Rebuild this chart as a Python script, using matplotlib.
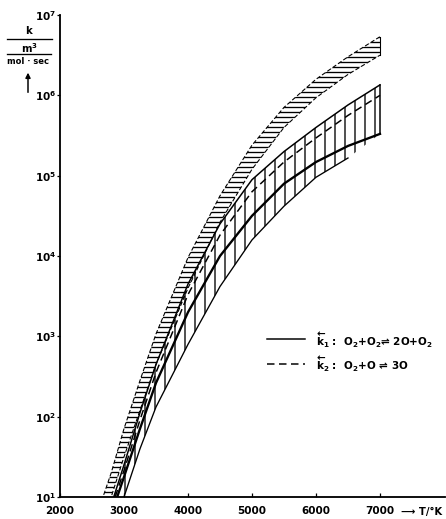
import numpy as np
import matplotlib
matplotlib.use("Agg")
import matplotlib.pyplot as plt
from matplotlib.lines import Line2D

# ---------------- data (log10 of k in m^3/(mol*sec)) ----------------
T = [2650, 2800, 3000, 3250, 3500, 4000, 4500, 5000, 5500, 6000, 6500, 7000]
# k2 band (horizontal hatching), upper and lower edge
k2_upper = [0.95, 1.30, 1.85, 2.45, 3.03, 3.98, 4.75, 5.38, 5.85, 6.20, 6.48, 6.73]
k2_lower = [0.60, 1.00, 1.50, 2.08, 2.65, 3.60, 4.42, 5.08, 5.60, 5.97, 6.26, 6.50]
# k1 band (vertical hatching): upper edge, inner dashed, inner bold
k1_upper = [0.45, 0.90, 1.40, 2.05, 2.65, 3.65, 4.40, 4.95, 5.30, 5.60, 5.88, 6.13]
k2_inner = [0.40, 0.85, 1.33, 1.96, 2.55, 3.52, 4.26, 4.80, 5.17, 5.47, 5.75, 6.00]
k1_mid   = [0.30, 0.78, 1.25, 1.85, 2.42, 3.30, 4.00, 4.50, 4.90, 5.17, 5.37, 5.52]
# lowest solid line
T_low    = [2800, 3000, 3250, 3500, 4000, 4500, 5000, 5500, 6000, 6500]
k1_lower = [0.45, 1.00, 1.60, 2.12, 2.90, 3.62, 4.20, 4.62, 4.98, 5.22]

x_ticks = [2000, 3000, 4000, 5000, 6000, 7000]
y_exps = [1, 2, 3, 4, 5, 6, 7]

legend_k1 = r"$\overleftarrow{\mathbf{k}}_{\mathbf{1}}$ :  O$_2$+O$_2$⇌ 2O+O$_2$"
legend_k2 = r"$\overleftarrow{\mathbf{k}}_{\mathbf{2}}$ :  O$_2$+O ⇌ 3O"

# ---------------- figure ----------------
DPI = 60
W, H = 446, 519
plt.rcParams['font.family'] = ['DejaVu Sans']
plt.rcParams['font.weight'] = 'bold'
plt.rcParams['mathtext.default'] = 'bf'
plt.rcParams['hatch.linewidth'] = 1.6
plt.rcParams['hatch.color'] = 'black'

fig = plt.figure(figsize=(W / DPI, H / DPI), dpi=DPI)
ax = fig.add_axes([60 / W, 22 / H, 385 / W, 482 / H])

def P(v):
    return 10.0 ** np.asarray(v, dtype=float)

Ta = np.asarray(T, dtype=float)
Tl = np.asarray(T_low, dtype=float)

# k2 band with horizontal hatching
ax.fill_between(Ta, P(k2_lower), P(k2_upper), facecolor='none', edgecolor='black',
                hatch='--', linewidth=0)
ax.plot(Ta, P(k2_upper), color='black', lw=1.3, ls=(0, (4, 2)))
ax.plot(Ta, P(k2_lower), color='black', lw=1.3, ls=(0, (4, 2)))

# k1 band with vertical hatching, down to the lowest line
low_env = np.interp(Ta, Tl, k1_lower, left=np.nan, right=np.nan)
low_env = np.where(np.isnan(low_env), k1_mid, low_env)
ax.fill_between(Ta, P(low_env), P(k1_upper), facecolor='none', edgecolor='black',
                hatch='|', linewidth=0)
ax.plot(Ta, P(k1_upper), color='black', lw=1.8)
ax.plot(Ta, P(k2_inner), color='black', lw=1.8, ls=(0, (5, 3)))
ax.plot(Ta, P(k1_mid), color='black', lw=2.8)
ax.plot(Tl, P(k1_lower), color='black', lw=1.6)
# closing edges at the right end
ax.plot([T[-1], T[-1]], P([k1_mid[-1], k1_upper[-1]]), color='black', lw=1.8)
ax.plot([T[-1], T[-1]], P([k2_lower[-1], k2_upper[-1]]), color='black', lw=1.3)

# axes styling
ax.set_yscale('log')
ax.set_xlim(2000, 8016)
ax.set_ylim(10, 1e7)
for s in ['top', 'right']:
    ax.spines[s].set_visible(False)
for s in ['left', 'bottom']:
    ax.spines[s].set_linewidth(2.2)
ax.set_xticks(x_ticks)
ax.set_xticklabels([str(v) for v in x_ticks], fontsize=12.5, fontweight='bold')
ax.set_yticks([10.0 ** e for e in y_exps])
ax.set_yticklabels([r"$\mathbf{10^{%d}}$" % e for e in y_exps], fontsize=12.5)
ax.minorticks_off()
ax.tick_params(axis='x', direction='in', length=5, width=1.5, pad=11)
ax.tick_params(axis='y', direction='out', length=3.5, width=1.5, pad=1)

def fx(x):
    return x / W

def fy(y):
    return 1 - y / H

# y-axis unit label
fig.text(fx(28), fy(31), "k", ha='center', va='center', fontsize=12, fontweight='bold')
fig.add_artist(Line2D([fx(7), fx(52)], [fy(39), fy(39)], color='black', lw=1.6))
fig.text(fx(29), fy(48), r"m$^3$", ha='center', va='center', fontsize=12, fontweight='bold')
fig.add_artist(Line2D([fx(7), fx(51)], [fy(54), fy(54)], color='black', lw=1.6))
fig.text(fx(28), fy(62), "mol · sec", ha='center', va='center', fontsize=10, fontweight='bold')
ax.annotate("", xy=(fx(28), fy(71)), xytext=(fx(28), fy(94)), xycoords='figure fraction',
            textcoords='figure fraction',
            arrowprops=dict(arrowstyle='-|>', color='black', lw=1.8, mutation_scale=12))

# x-axis label
fig.text(fx(401), fy(512), "⟶ T/°K", ha='left', va='center', fontsize=12, fontweight='bold')

# legend
fig.add_artist(Line2D([fx(267), fx(305)], [fy(339), fy(339)], color='black', lw=1.8))
fig.add_artist(Line2D([fx(267), fx(305)], [fy(364), fy(364)], color='black', lw=1.8,
                      ls=(0, (5, 3))))
fig.text(fx(316), fy(340), legend_k1, ha='left', va='center', fontsize=12.5, fontweight='bold')
fig.text(fx(316), fy(364), legend_k2, ha='left', va='center', fontsize=12.5, fontweight='bold')

fig.savefig("out.png", dpi=DPI)
